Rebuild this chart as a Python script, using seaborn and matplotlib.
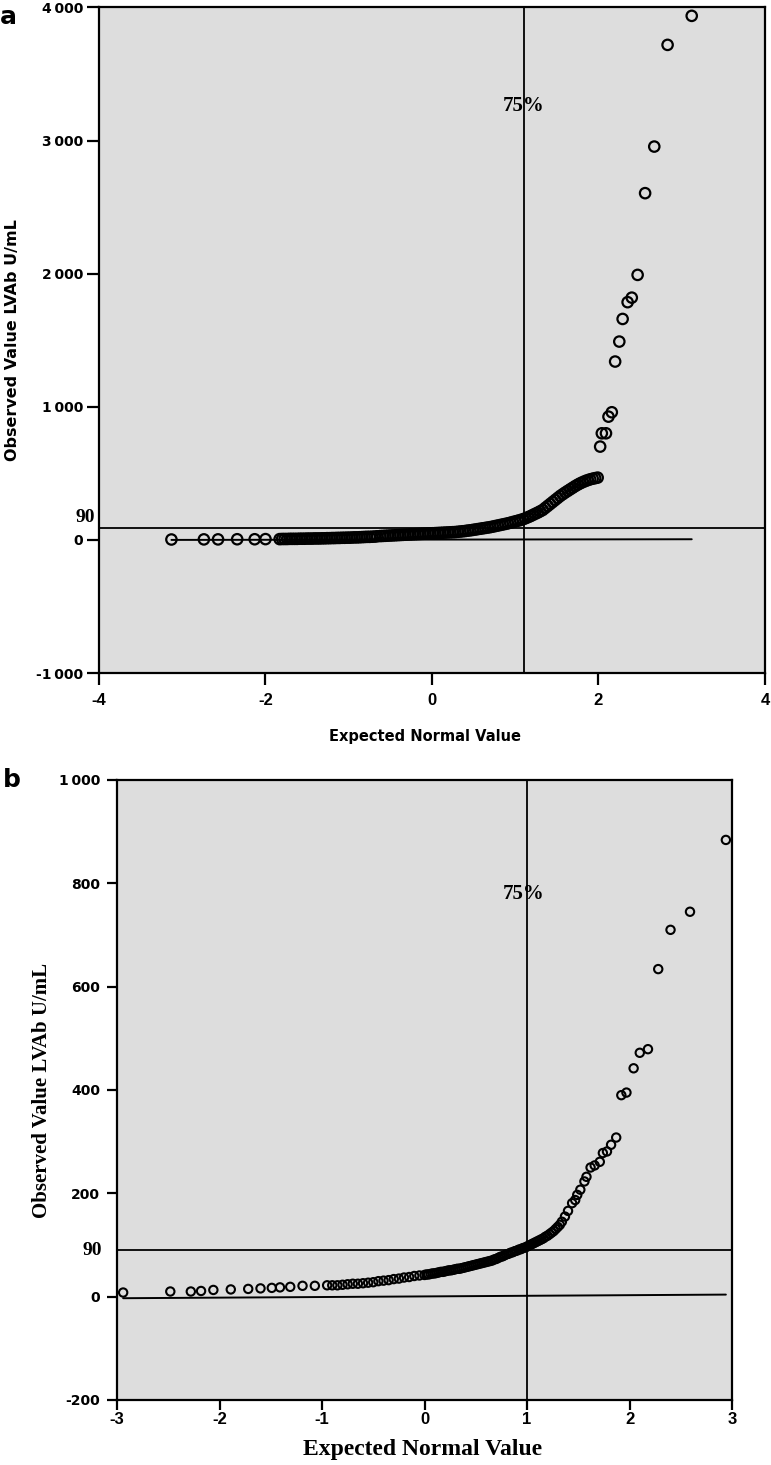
import matplotlib
matplotlib.use("Agg")
import matplotlib.pyplot as plt
import matplotlib.transforms as mtransforms
from matplotlib.ticker import FixedLocator, FuncFormatter
import pandas as pd
import seaborn as sns

# ---------------- panel a : LVAb, all samples ----------------
a_tail_x = [-3.13, -2.74, -2.57, -2.34, -2.13, -2.00, -1.83]
a_tail_y = [3, 4, 4, 5, 5, 6, 6]

a_mid_x = [-1.80, -1.77, -1.74, -1.71, -1.68, -1.65, -1.62, -1.59, -1.56, -1.53,
           -1.50, -1.47, -1.44, -1.41, -1.38, -1.35, -1.32, -1.29, -1.26, -1.23,
           -1.20, -1.17, -1.14, -1.11, -1.08, -1.05, -1.02, -0.99, -0.96, -0.93,
           -0.90, -0.87, -0.84, -0.81, -0.78, -0.75, -0.72, -0.69, -0.66]
a_mid_y = [7, 7, 7, 8, 8, 8, 8, 9, 9, 9,
           10, 10, 10, 11, 11, 11, 12, 12, 13, 13,
           14, 14, 15, 15, 16, 16, 17, 17, 18, 19,
           19, 20, 21, 22, 23, 23, 24, 25, 27]

a_band_x = [-0.62, -0.59, -0.56, -0.53, -0.50, -0.47, -0.44, -0.41, -0.38, -0.35,
            -0.32, -0.29, -0.26, -0.23, -0.20, -0.17, -0.14, -0.11, -0.08, -0.05,
            -0.02, 0.01, 0.04, 0.07, 0.10, 0.13, 0.16, 0.19, 0.22, 0.25,
            0.28, 0.31, 0.34, 0.37, 0.40, 0.43, 0.46, 0.49, 0.52, 0.55,
            0.58, 0.61, 0.64, 0.67, 0.70, 0.73, 0.76, 0.79, 0.82, 0.85,
            0.88, 0.91, 0.94, 0.97, 1.00, 1.03, 1.06, 1.09, 1.12, 1.15,
            1.18, 1.21, 1.24, 1.27, 1.30, 1.33, 1.36, 1.39, 1.42, 1.45,
            1.48, 1.51, 1.54, 1.57, 1.60, 1.63, 1.66, 1.69, 1.72, 1.75,
            1.78, 1.81, 1.84, 1.87, 1.90, 1.93, 1.96, 1.99]
a_band_y = [29, 30, 31, 32, 33, 34, 35, 36, 37, 38,
            39, 40, 41, 42, 43, 44, 45, 46, 47, 48,
            49, 50, 51, 52, 53, 54, 55, 56, 57, 58,
            59, 61, 63, 65, 67, 70, 72, 75, 78, 81,
            84, 87, 90, 93, 96, 100, 104, 108, 112, 116,
            120, 124, 129, 134, 139, 144, 149, 155, 162, 170,
            178, 187, 196, 205, 215, 225, 240, 255, 270, 285,
            300, 315, 330, 343, 356, 368, 380, 392, 404, 415,
            425, 434, 442, 449, 455, 460, 464, 468]

a_top_x = [2.02, 2.04, 2.09, 2.12, 2.16, 2.20, 2.25, 2.29, 2.35, 2.40,
           2.47, 2.56, 2.67, 2.83, 3.12]
a_top_y = [701, 801, 801, 926, 959, 1340, 1490, 1660, 1786, 1820,
           1991, 2605, 2955, 3719, 3937]

a_fit_x = [-3.13, 3.12]
a_fit_y = [0, 5]
a_q75 = 1.1
a_cutoff = 90
a_yticks = [-1000, 0, 1000, 2000, 3000, 4000]
a_xticks = [-4, -2, 0, 2, 4]

# ---------------- panel b ----------------
b_tail_x = [-2.94, -2.48, -2.28, -2.18, -2.06, -1.89, -1.72, -1.60, -1.49, -1.41,
            -1.31, -1.19, -1.07, -0.95]
b_tail_y = [8, 10, 10, 11, 13, 14, 15, 16, 17, 18,
            19, 21, 21, 22]

b_mid_x = [-0.90, -0.85, -0.80, -0.75, -0.70, -0.65, -0.60, -0.55, -0.50, -0.45,
           -0.40, -0.35, -0.30, -0.25, -0.20, -0.15, -0.10, -0.05]
b_mid_y = [22, 22, 23, 24, 25, 25, 26, 27, 28, 30,
           31, 32, 34, 35, 37, 38, 40, 41]

b_band_x = [0.00, 0.02, 0.04, 0.06, 0.08, 0.10, 0.12, 0.14, 0.16, 0.18,
            0.20, 0.22, 0.24, 0.26, 0.28, 0.30, 0.32, 0.34, 0.36, 0.38,
            0.40, 0.42, 0.44, 0.46, 0.48, 0.50, 0.52, 0.54, 0.56, 0.58,
            0.60, 0.62, 0.64, 0.66, 0.68, 0.70, 0.72, 0.74, 0.76, 0.78,
            0.80, 0.82, 0.84, 0.86, 0.88, 0.90, 0.92, 0.94, 0.96, 0.98,
            1.00, 1.02, 1.04, 1.06, 1.08, 1.10, 1.12, 1.14, 1.16, 1.18,
            1.20, 1.22, 1.24, 1.26, 1.28, 1.30, 1.32, 1.34]
b_band_y = [42, 43, 43, 44, 45, 45, 46, 47, 48, 48,
            49, 50, 51, 51, 52, 53, 54, 54, 55, 56,
            57, 58, 59, 60, 61, 62, 63, 64, 65, 66,
            67, 68, 69, 70, 72, 73, 75, 77, 78, 80,
            82, 83, 85, 86, 88, 89, 91, 92, 94, 95,
            97, 99, 101, 103, 105, 107, 109, 111, 113, 116,
            118, 121, 124, 127, 131, 135, 139, 145]

b_top_x = [1.37, 1.40, 1.44, 1.47, 1.49, 1.52, 1.56, 1.58, 1.62, 1.66,
           1.71, 1.74, 1.78, 1.82, 1.87, 1.92, 1.97, 2.04, 2.10, 2.18,
           2.28, 2.40, 2.59, 2.94]
b_top_y = [155, 166, 181, 187, 197, 207, 223, 232, 250, 254,
           261, 278, 281, 294, 308, 390, 395, 442, 472, 479,
           634, 710, 745, 884]

b_fit_x = [-2.94, 2.94]
b_fit_y = [-3, 4]
b_q75 = 1.0
b_cutoff = 90
b_yticks = [-200, 0, 200, 400, 600, 800, 1000]
b_xticks = [-3, -2, -1, 0, 1, 2, 3]

sns.set_theme(style="ticks")
plt.rcParams.update({
    "axes.unicode_minus": False,
    "text.color": "black",
    "axes.labelcolor": "black",
    "axes.edgecolor": "black",
    "xtick.color": "black",
    "ytick.color": "black",
})
plt.rcParams["font.family"] = ["DejaVu Sans"]

SERIF = ["Liberation Serif", "DejaVu Serif"]
SANS = ["DejaVu Sans"]
NARROW = ["Liberation Sans Narrow", "Liberation Sans", "DejaVu Sans"]


def thousands(v, pos):
    return f"{int(round(v)):,}".replace(",", "\u2009")


def plain_int(v, pos):
    return f"{int(round(v))}"


def qq_panel(ax, xs, ys, fit_x, fit_y, q75, cutoff, xlim, ylim, xticks, yticks,
             msize, medge):
    ax.set_facecolor("#dddddd")
    ax.axvline(q75, color="black", lw=1.3, zorder=1)
    ax.axhline(cutoff, color="black", lw=1.3, zorder=1)
    sns.lineplot(x=fit_x, y=fit_y, ax=ax, color="black", lw=1.4, legend=False, zorder=2)
    pts = pd.DataFrame({"expected": xs, "observed": ys})
    sns.scatterplot(data=pts, x="expected", y="observed", ax=ax, marker="o",
                    s=msize, facecolor="none", edgecolor="black", linewidth=medge,
                    legend=False, zorder=3)
    ax.set_xlim(*xlim)
    ax.set_ylim(*ylim)
    ax.xaxis.set_major_locator(FixedLocator(xticks))
    ax.yaxis.set_major_locator(FixedLocator(yticks))
    for sp in ax.spines.values():
        sp.set_visible(True)
        sp.set_linewidth(1.6)
        sp.set_color("black")


fig = plt.figure(figsize=(7.71, 14.65), dpi=100)

# ---- a ----
ax_a = fig.add_axes([0.1284, 0.5406, 0.8638, 0.4543])
qq_panel(ax_a,
         a_tail_x + a_mid_x + a_band_x + a_top_x,
         a_tail_y + a_mid_y + a_band_y + a_top_y,
         a_fit_x, a_fit_y, a_q75, a_cutoff, (-4, 4), (-1000, 4000),
         a_xticks, a_yticks, 56, 1.6)
ax_a.yaxis.set_major_formatter(FuncFormatter(thousands))
ax_a.xaxis.set_major_formatter(FuncFormatter(plain_int))
ax_a.tick_params(axis="both", direction="out", length=8.5, width=1.6, color="black")
ax_a.tick_params(axis="y", pad=3)
ax_a.tick_params(axis="x", pad=6)
for lab in ax_a.get_yticklabels():
    lab.set_fontfamily(SANS)
    lab.set_fontweight("bold")
    lab.set_fontsize(10)
for lab in ax_a.get_xticklabels():
    lab.set_fontfamily(NARROW)
    lab.set_fontweight("bold")
    lab.set_fontsize(12)
ax_a.set_xlabel("Expected Normal Value", fontsize=10.5, fontweight="bold", family=SANS)
ax_a.set_ylabel("Observed Value LVAb U/mL", fontsize=11.5, fontweight="bold", family=SANS)
ax_a.xaxis.set_label_coords(0.49, -0.096)
ax_a.xaxis.label.set_va("center")
ax_a.yaxis.set_label_coords(-0.1306, 0.5)
ax_a.yaxis.label.set_va("center")
ax_a.text(a_q75, 3260, "75%", ha="center", va="center", fontsize=15,
          fontweight="bold", family=SERIF, color="black")
blend_a = mtransforms.blended_transform_factory(ax_a.transAxes, ax_a.transData)
ax_a.text(-0.006, 165, "90", transform=blend_a, ha="right", va="center",
          fontsize=14, fontweight="bold", family=SERIF, color="black")

# ---- b ----
ax_b = fig.add_axes([0.15175, 0.04437, 0.7977, 0.42321])
qq_panel(ax_b,
         b_tail_x + b_mid_x + b_band_x + b_top_x,
         b_tail_y + b_mid_y + b_band_y + b_top_y,
         b_fit_x, b_fit_y, b_q75, b_cutoff, (-3, 3), (-200, 1000),
         b_xticks, b_yticks, 36, 1.5)
ax_b.yaxis.set_major_formatter(FuncFormatter(thousands))
ax_b.xaxis.set_major_formatter(FuncFormatter(plain_int))
ax_b.tick_params(axis="both", direction="out", length=7, width=1.6, color="black")
ax_b.tick_params(axis="y", pad=5)
ax_b.tick_params(axis="x", pad=2)
for lab in ax_b.get_yticklabels():
    lab.set_fontfamily(SANS)
    lab.set_fontweight("bold")
    lab.set_fontsize(10)
for lab in ax_b.get_xticklabels():
    lab.set_fontfamily(NARROW)
    lab.set_fontweight("bold")
    lab.set_fontsize(12)
ax_b.set_xlabel("Expected Normal Value", fontsize=17, fontweight="bold", family=SERIF)
ax_b.set_ylabel("Observed Value LVAb U/mL", fontsize=15, fontweight="bold", family=SERIF)
ax_b.xaxis.set_label_coords(0.497, -0.0806)
ax_b.xaxis.label.set_va("center")
ax_b.yaxis.set_label_coords(-0.122, 0.5)
ax_b.yaxis.label.set_va("center")
ax_b.text(b_q75 - 0.03, 780, "75%", ha="center", va="center", fontsize=15,
          fontweight="bold", family=SERIF, color="black")
blend_b = mtransforms.blended_transform_factory(ax_b.transAxes, ax_b.transData)
ax_b.text(-0.024, b_cutoff, "90", transform=blend_b, ha="right", va="center",
          fontsize=14, fontweight="bold", family=SERIF, color="black")

fig.text(0.0104, 0.9884, "a", ha="center", va="center", fontsize=18, fontweight="bold")
fig.text(0.0156, 1 - 780 / 1465, "b", ha="center", va="center", fontsize=18,
         fontweight="bold")

fig.savefig("out.png", dpi=100)
